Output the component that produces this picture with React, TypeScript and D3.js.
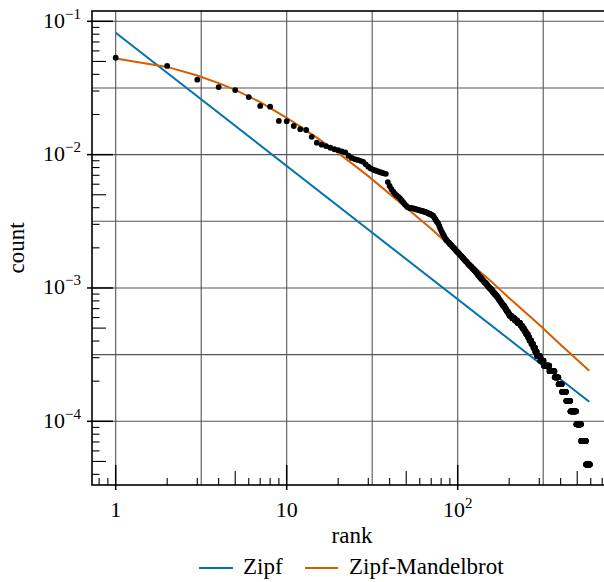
import React from 'react';
import * as d3 from 'd3';

// total number of counted words (for turning counts into frequencies)
const TOTAL = 42100;

// word counts for ranks 1..101
const headCounts = [
  2244, 1949, 1537, 1351, 1284, 1137, 977, 964, 754, 749,
  690, 653, 644, 573, 518, 500, 488, 474, 462, 455,
  446, 438, 413, 398, 390, 384, 378, 372, 356, 342,
  332, 325, 320, 316, 312, 308, 305, 302, 262, 245,
  232, 222, 214, 208, 203, 198, 191, 185, 179, 174,
  170, 168, 167, 167, 166, 165, 164, 163, 162, 161,
  160, 159, 158, 157, 156, 155, 153, 152, 151, 149,
  148, 146, 142, 138, 134, 131, 128, 123, 118, 114,
  110, 107, 104, 101, 98, 96, 95, 93, 92, 90,
  89, 88, 86, 85, 84, 83, 81, 80, 79, 78, 77,
];

// after rank 101: count value and how many words share it
const tailCounts = [
  76, 75, 74, 73, 72, 71, 70, 69, 68, 67, 66, 65, 64,
  63, 62, 61, 60, 59, 58, 57, 56, 55, 54, 53, 52, 51,
  50, 49, 48, 47, 46, 45, 44, 43,
  42, 41, 40, 39, 38, 37, 36, 35, 34,
  33, 32, 31, 30, 29, 28, 27,
  26, 25, 24, 23,
  22, 21, 20, 19, 18,
  17, 16, 15, 14,
  13, 12, 11, 10, 9, 8, 7, 6, 5, 4, 3, 2,
];
const tailRepeats = [
  1, 1, 1, 1, 1, 1, 1, 1, 1, 2, 1, 1, 1,
  2, 1, 2, 1, 2, 1, 2, 1, 2, 1, 2, 1, 2,
  2, 2, 2, 2, 3, 2, 2, 2,
  3, 3, 2, 3, 3, 3, 3, 2, 3,
  3, 3, 4, 3, 3, 4, 3,
  7, 8, 8, 9,
  6, 6, 6, 7, 5,
  7, 7, 7, 7,
  13, 15, 25, 25, 20, 18, 24, 25, 38, 33, 36, 31,
];

// fitted lines
const zipfRanks = [1, 588];
const zipfValues = [0.0821, 0.00014];
const zmRanks = [1, 2, 3, 4, 5, 7, 10, 12, 15, 20, 30, 50, 70, 100, 150, 200, 300, 400, 588];
const zmValues = [0.0527, 0.0455, 0.0392, 0.0344, 0.0306, 0.0248, 0.0189, 0.0162, 0.0134, 0.0103,
  0.0069, 0.004, 0.00278, 0.00184, 0.00118, 0.00084, 0.00053, 0.000375, 0.000239];

const xMajor = [1, 10, 100];
const xMajorLabels = [['1', ''], ['10', ''], ['10', '2']];
const yMajor = [1e-1, 1e-2, 1e-3, 1e-4];
const yMajorLabels = [['10', '\u22121'], ['10', '\u22122'], ['10', '\u22123'], ['10', '\u22124']];

const legendNames = ['Zipf', 'Zipf-Mandelbrot'];
const BLUE = '#0072B2';
const ORANGE = '#D55E00';
const FONT = "'Liberation Serif', 'DejaVu Serif', serif";

export default function App() {
  const W = 604, H = 582;
  const left = 92, right = 613, top = 11, bottom = 485;

  const x = d3.scaleLog().domain([1, 100]).range([115.7, 457.7]);
  const y = d3.scaleLog().domain([0.1, 1e-4]).range([21.3, 421.3]);

  // build the rank/frequency points
  const points: [number, number][] = headCounts.map((c, i) => [i + 1, c / TOTAL]);
  let rank = headCounts.length;
  tailCounts.forEach((c, i) => {
    for (let k = 0; k < tailRepeats[i]; k++) {
      rank += 1;
      points.push([rank, c / TOTAL]);
    }
  });

  const line = d3.line<[number, number]>()
    .x(d => x(d[0]))
    .y(d => y(d[1]));
  const zipfPath = line(zipfRanks.map((r, i) => [r, zipfValues[i]])) || '';
  const zmPath = line(zmRanks.map((r, i) => [r, zmValues[i]])) || '';

  // grid every half decade
  const xGrid = [0, 0.5, 1, 1.5, 2, 2.5].map(e => Math.pow(10, e));
  const yGrid = [-1, -1.5, -2, -2.5, -3, -3.5, -4].map(e => Math.pow(10, e));

  const inX = (v: number) => x(v) > left && x(v) < right;
  const inY = (v: number) => y(v) > top && y(v) < bottom;
  const xMinor: { v: number; len: number }[] = [];
  const yMinor: { v: number; len: number }[] = [];
  [0.1, 1, 10, 100].forEach(d => {
    for (let m = 2; m <= 9; m++) {
      const v = d * m;
      if (inX(v)) xMinor.push({ v, len: m === 5 ? 14 : 7 });
    }
  });
  [1e-5, 1e-4, 1e-3, 1e-2, 1e-1].forEach(d => {
    for (let m = 2; m <= 9; m++) {
      const v = d * m;
      if (inY(v)) yMinor.push({ v, len: m === 5 ? 14 : 7.5 });
    }
  });

  const txt = { fontFamily: FONT };

  return (
    <svg width={W} height={H} style={{ position: 'absolute', left: 0, top: 0, background: '#fff' }}>
      <defs>
        <clipPath id="plot">
          <rect x={left} y={top} width={right - left} height={bottom - top} />
        </clipPath>
      </defs>

      {/* grid */}
      <g stroke="#555" strokeWidth={1.1}>
        {xGrid.map((v, i) => (
          <line key={'gx' + i} x1={x(v)} x2={x(v)} y1={top} y2={bottom} />
        ))}
        {yGrid.map((v, i) => (
          <line key={'gy' + i} x1={left} x2={right} y1={y(v)} y2={y(v)} />
        ))}
      </g>

      {/* data */}
      <g clipPath="url(#plot)">
        <path d={zipfPath} fill="none" stroke={BLUE} strokeWidth={2} />
        <path d={zmPath} fill="none" stroke={ORANGE} strokeWidth={2} />
        {points.map((p, i) => (
          <circle key={i} cx={x(p[0])} cy={y(p[1])} r={2.9} fill="#000" />
        ))}
      </g>

      {/* frame */}
      <rect x={left} y={top} width={right - left} height={bottom - top} fill="none" stroke="#000" strokeWidth={1.6} />

      {/* ticks */}
      <g stroke="#000">
        {xMajor.map((v, i) => (
          <line key={'xM' + i} x1={x(v)} x2={x(v)} y1={bottom + 5} y2={bottom - 20} strokeWidth={1.5} />
        ))}
        {xMinor.map((t, i) => (
          <line key={'xm' + i} x1={x(t.v)} x2={x(t.v)} y1={bottom} y2={bottom - t.len} strokeWidth={1.1} />
        ))}
        {yMajor.map((v, i) => (
          <line key={'yM' + i} x1={left - 5} x2={left + 21} y1={y(v)} y2={y(v)} strokeWidth={1.5} />
        ))}
        {yMinor.map((t, i) => (
          <line key={'ym' + i} x1={left} x2={left + t.len} y1={y(t.v)} y2={y(t.v)} strokeWidth={1.1} />
        ))}
      </g>

      {/* tick labels */}
      <g fontSize={22} fill="#000">
        {xMajor.map((v, i) => (
          <text key={'xl' + i} style={txt} x={x(v)} y={517} textAnchor="middle">
            {xMajorLabels[i][0]}
            {xMajorLabels[i][1] && <tspan fontSize={15} dy={-9}>{xMajorLabels[i][1]}</tspan>}
          </text>
        ))}
        {yMajor.map((v, i) => (
          <text key={'yl' + i} style={txt} x={81} y={y(v) + 6.5} textAnchor="end">
            {yMajorLabels[i][0]}
            <tspan fontSize={15} dy={-9}>{yMajorLabels[i][1]}</tspan>
          </text>
        ))}
      </g>

      {/* axis labels */}
      <text style={txt} x={352} y={543} fontSize={23} textAnchor="middle">rank</text>
      <text style={txt} transform={`translate(24,${(top + bottom) / 2}) rotate(-90)`} fontSize={23} textAnchor="middle">count</text>

      {/* legend */}
      <g fontSize={23}>
        <line x1={199} x2={233} y1={568} y2={568} stroke={BLUE} strokeWidth={2} />
        <text style={txt} x={243} y={574}>{legendNames[0]}</text>
        <line x1={305} x2={338} y1={568} y2={568} stroke={ORANGE} strokeWidth={2} />
        <text style={txt} x={349} y={574}>{legendNames[1]}</text>
      </g>
    </svg>
  );
}
